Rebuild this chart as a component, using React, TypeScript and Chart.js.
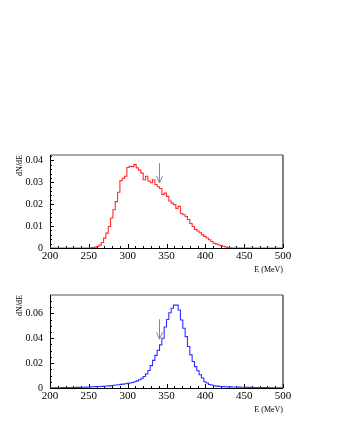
import React, { useEffect, useRef } from "react";
import { Chart, registerables } from "chart.js";

Chart.register(...registerables);

// ---- data ----
const E_MIN = 200;
const E_MAX = 500;
const BIN_WIDTH = 3; // MeV per bin (100 bins)
const ARROW_E = 340;

const X_TICKS = [200, 250, 300, 350, 400, 450, 500];
const TOP_Y_TICKS = [0, 0.01, 0.02, 0.03, 0.04];
const BOTTOM_Y_TICKS = [0, 0.02, 0.04, 0.06];
const TOP_Y_MAX = 0.0425;
const BOTTOM_Y_MAX = 0.0747;

// upper histogram (red), 3 MeV bins from 200 to 500
const TOP_VALUES = [
  0, 0, 0, 0, 0, 0, 0, 0, 0, 0,
  0, 0, 0, 0, 0, 0, 0, 0.0001, 0.0002, 0.0004,
  0.0007, 0.0013, 0.0025, 0.0045, 0.0068, 0.0098, 0.0137, 0.0175, 0.0212, 0.0255,
  0.0308, 0.0318, 0.0328, 0.0368, 0.0373, 0.0372, 0.0381, 0.0366, 0.0356, 0.0342,
  0.0312, 0.0328, 0.0306, 0.0298, 0.0312, 0.029, 0.028, 0.0272, 0.0244, 0.0251,
  0.0236, 0.0215, 0.0205, 0.0198, 0.0181, 0.019, 0.0158, 0.0152, 0.0144, 0.013,
  0.0112, 0.0098, 0.0085, 0.0078, 0.007, 0.006, 0.0053, 0.0046, 0.0038, 0.003,
  0.0022, 0.0019, 0.0015, 0.0011, 0.0008, 0.0005, 0.0002, 0.0001, 0, 0,
  0, 0, 0, 0, 0, 0, 0, 0, 0, 0,
  0, 0, 0, 0, 0, 0, 0, 0, 0, 0,
];

// lower histogram (blue), 3 MeV bins from 200 to 500
const BOTTOM_VALUES = [
  0.0001, 0.0001, 0.0002, 0.0002, 0.0002, 0.0003, 0.0003, 0.0003, 0.0004, 0.0004,
  0.0004, 0.0005, 0.0005, 0.0006, 0.0006, 0.0007, 0.0008, 0.0009, 0.001, 0.0011,
  0.0012, 0.0012, 0.0013, 0.0014, 0.0016, 0.0017, 0.0019, 0.0022, 0.0024, 0.0026,
  0.0029, 0.0031, 0.0034, 0.0037, 0.004, 0.0044, 0.005, 0.0057, 0.0066, 0.0078,
  0.0092, 0.0112, 0.014, 0.018, 0.0222, 0.0262, 0.0302, 0.0346, 0.04, 0.049,
  0.055, 0.0605, 0.064, 0.0666, 0.0666, 0.0626, 0.0546, 0.048, 0.0413, 0.0333,
  0.0266, 0.0213, 0.0172, 0.0138, 0.0106, 0.008, 0.005, 0.004, 0.0028, 0.0024,
  0.0018, 0.0015, 0.0013, 0.0012, 0.0011, 0.001, 0.0009, 0.0009, 0.0008, 0.0008,
  0.0007, 0.0007, 0.0006, 0.0006, 0.0005, 0.0005, 0.0005, 0.0004, 0.0004, 0.0004,
  0.0003, 0.0003, 0.0003, 0.0003, 0.0002, 0.0002, 0.0002, 0.0002, 0.0002, 0.0001,
];

// arrow marker: [tail value, tip value] at E = 340
const TOP_ARROW = [0.0388, 0.0297];
const BOTTOM_ARROW = [0.0552, 0.0392];

const SERIF = "'Liberation Serif', 'Times New Roman', serif";

function toPoints(values: number[]) {
  const pts = values.map((v, i) => ({ x: E_MIN + i * BIN_WIDTH, y: v }));
  pts.push({ x: E_MAX, y: values[values.length - 1] });
  return pts;
}

const framePlugin = {
  id: "rootFrame",
  beforeDatasetsDraw(chart: any) {
    const o = chart.options.plugins.rootFrame;
    const { ctx, chartArea } = chart;
    const { left, right, top, bottom } = chartArea;
    const xs = chart.scales.x;
    const ys = chart.scales.y;
    ctx.save();
    // top border
    ctx.strokeStyle = "#a8a8a8";
    ctx.lineWidth = 2;
    ctx.beginPath();
    ctx.moveTo(left, top);
    ctx.lineTo(right, top);
    ctx.stroke();
    // right border
    ctx.strokeStyle = "#555";
    ctx.lineWidth = 1.5;
    ctx.beginPath();
    ctx.moveTo(right, top);
    ctx.lineTo(right, bottom);
    ctx.stroke();
    // left & bottom axes
    ctx.strokeStyle = "#000";
    ctx.lineWidth = 1;
    ctx.beginPath();
    ctx.moveTo(left + 0.5, top);
    ctx.lineTo(left + 0.5, bottom + 0.5);
    ctx.lineTo(right, bottom + 0.5);
    ctx.stroke();
    // x ticks (inward)
    ctx.beginPath();
    for (let e = E_MIN; e <= E_MAX; e += 10) {
      const px = Math.round(xs.getPixelForValue(e)) + 0.5;
      const len = e % 50 === 0 ? 4 : 2;
      ctx.moveTo(px, bottom);
      ctx.lineTo(px, bottom - len);
    }
    // y ticks (inward)
    for (let k = 0; k * o.minorY <= o.yMax + 1e-9; k++) {
      const v = k * o.minorY;
      const r = v / o.majorY;
      const major = Math.abs(r - Math.round(r)) < 1e-6;
      const py = Math.round(ys.getPixelForValue(v)) + 0.5;
      ctx.moveTo(left, py);
      ctx.lineTo(left + (major ? 4 : 2), py);
    }
    ctx.stroke();
    ctx.restore();
  },
  afterDatasetsDraw(chart: any) {
    const o = chart.options.plugins.rootFrame;
    const { ctx } = chart;
    const xs = chart.scales.x;
    const ys = chart.scales.y;
    const px = Math.round(xs.getPixelForValue(ARROW_E)) + 0.5;
    const y1 = ys.getPixelForValue(o.arrow[0]);
    const y2 = ys.getPixelForValue(o.arrow[1]);
    ctx.save();
    ctx.strokeStyle = "#8a8a8a";
    ctx.lineWidth = 1;
    ctx.beginPath();
    ctx.moveTo(px, y1);
    ctx.lineTo(px, y2);
    ctx.moveTo(px - 3, y2 - 7);
    ctx.lineTo(px, y2);
    ctx.lineTo(px + 3, y2 - 7);
    ctx.stroke();
    ctx.restore();
  },
};

type HistProps = {
  values: number[];
  color: string;
  yMax: number;
  yTicks: number[];
  majorY: number;
  minorY: number;
  arrow: number[];
  top: number;
};

function Histogram({ values, color, yMax, yTicks, majorY, minorY, arrow, top }: HistProps) {
  const ref = useRef<HTMLCanvasElement | null>(null);
  useEffect(() => {
    if (!ref.current) return;
    const chart = new Chart(ref.current, {
      type: "line",
      data: {
        datasets: [
          {
            data: toPoints(values),
            borderColor: color,
            borderWidth: 1.1,
            pointRadius: 0,
            stepped: "before",
            fill: false,
            tension: 0,
          } as any,
        ],
      },
      options: {
        animation: false,
        responsive: false,
        maintainAspectRatio: false,
        events: [],
        layout: { padding: { top: 15, right: 56, left: 0, bottom: 0 } },
        plugins: {
          legend: { display: false },
          tooltip: { enabled: false },
          rootFrame: { yMax, majorY, minorY, arrow },
        } as any,
        scales: {
          x: {
            type: "linear",
            min: E_MIN,
            max: E_MAX,
            afterFit: (s: any) => {
              s.height = 32;
            },
            afterBuildTicks: (s: any) => {
              s.ticks = X_TICKS.map((v) => ({ value: v }));
            },
            grid: { display: false, drawTicks: false },
            border: { display: false },
            ticks: {
              padding: 2,
              autoSkip: false,
              maxRotation: 0,
              color: "#000",
              font: { family: SERIF, size: 11 },
              callback: (v: any) => String(v),
            },
            title: {
              display: true,
              text: "E (MeV)",
              align: "end",
              color: "#000",
              font: { family: SERIF, size: 8 },
              padding: { top: 0, bottom: 5 },
            },
          },
          y: {
            type: "linear",
            min: 0,
            max: yMax,
            afterFit: (s: any) => {
              s.width = 50;
            },
            afterBuildTicks: (s: any) => {
              s.ticks = yTicks.map((v) => ({ value: v }));
            },
            grid: { display: false, drawTicks: false },
            border: { display: false },
            ticks: {
              padding: 7,
              color: "#000",
              font: { family: SERIF, size: 10 },
              callback: (v: any) => (v === 0 ? "0" : Number(v).toFixed(2)),
            },
            title: {
              display: true,
              text: "dN/dE",
              align: "end",
              color: "#000",
              font: { family: SERIF, size: 8 },
              padding: { top: 15, bottom: 0 },
            },
          },
        } as any,
      },
      plugins: [framePlugin],
    });
    return () => chart.destroy();
  }, []);
  return (
    <canvas
      ref={ref}
      width={339}
      height={140}
      style={{ position: "absolute", left: 0, top, width: 339, height: 140 }}
    />
  );
}

export default function App() {
  return (
    <div style={{ position: "absolute", left: 0, top: 0, width: 339, height: 439, background: "#fff" }}>
      <Histogram
        values={TOP_VALUES}
        color="#ff2d2d"
        yMax={TOP_Y_MAX}
        yTicks={TOP_Y_TICKS}
        majorY={0.01}
        minorY={0.002}
        arrow={TOP_ARROW}
        top={140}
      />
      <Histogram
        values={BOTTOM_VALUES}
        color="#3030ff"
        yMax={BOTTOM_Y_MAX}
        yTicks={BOTTOM_Y_TICKS}
        majorY={0.02}
        minorY={0.005}
        arrow={BOTTOM_ARROW}
        top={280}
      />
    </div>
  );
}
